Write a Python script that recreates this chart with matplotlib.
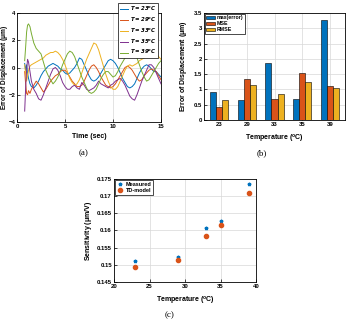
import numpy as np
import matplotlib

matplotlib.use("Agg")
import matplotlib.pyplot as plt

# --- (a) 시간에 따른 변위 오차 ---
time_sec = [0.8, 0.9, 1.0, 1.1, 1.2, 1.35, 1.5, 1.75, 2.0, 2.25, 2.5, 2.75, 3.0, 3.25, 3.5, 3.75,
            4.0, 4.25, 4.5, 4.75, 5.0, 5.25, 5.5, 5.75, 6.0, 6.25, 6.5, 6.75, 7.0, 7.25, 7.5, 7.75,
            8.0, 8.25, 8.5, 8.75, 9.0, 9.25, 9.5, 9.75, 10.0, 10.25, 10.5, 10.75, 11.0, 11.25, 11.5,
            11.75, 12.0, 12.25, 12.5, 12.75, 13.0, 13.25, 13.5, 13.75, 14.0, 14.25, 14.5, 14.75, 15.0]
err_23 = [0.3, -0.2, 0.2, -0.4, -0.8, -1.2, -1.4, -1.5, -1.3, -1.0, -0.6, -0.3, -0.1, 0.1, 0.2, 0.3,
          0.2, 0.1, -0.1, -0.2, -0.4, -0.5, -0.4, -0.2, 0.0, 0.3, 0.7, 0.6, 0.2, -0.2, -0.6, -0.9,
          -1.0, -0.9, -0.7, -0.4, -0.1, 0.2, 0.5, 0.6, 0.5, 0.3, 0.0, -0.4, -0.8, -1.1, -1.4,
          -1.5, -1.4, -1.2, -0.8, -0.4, -0.1, 0.1, 0.2, 0.1, -0.1, -0.3, -0.3, -0.5, -0.7]
err_29 = [-0.3, -1.2, -1.9, -2.0, -1.7, -1.9, -1.6, -1.3, -1.0, -1.2, -1.5, -1.8, -1.6, -1.3, -1.0, -0.8,
          -0.6, -0.5, -0.3, -0.2, -0.2, -0.4, -0.7, -1.0, -1.2, -1.4, -1.4, -1.3, -1.0, -0.6, -0.2, 0.1,
          0.2, 0.0, -0.3, -0.7, -1.0, -1.3, -1.4, -1.5, -1.4, -1.2, -0.9, -0.6, -0.3, 0.0, 0.1,
          0.0, -0.2, -0.5, -0.8, -1.0, -0.9, -0.6, -0.4, -0.2, -0.1, -0.2, -0.3, -0.6, -0.9]
err_33 = [0.2, -0.5, -1.0, -0.6, -0.2, 0.1, 0.2, 0.3, 0.4, 0.5, 0.6, 0.7, 0.9, 1.0, 1.1, 1.1,
          1.2, 1.1, 0.9, 0.6, 0.2, -0.3, -0.8, -1.1, -1.3, -1.2, -0.9, -0.4, 0.1, 0.6, 1.0, 1.4,
          1.8, 1.7, 1.3, 0.7, 0.1, -0.5, -1.0, -1.4, -1.6, -1.6, -1.4, -1.0, -0.6, -0.2, 0.1,
          0.2, 0.1, 0.2, 0.3, 0.5, 0.6, 0.7, 0.8, 0.9, 1.0, 1.1, 1.0, 0.8, 0.6]
err_35 = [-3.2, -1.5, -0.2, 0.6, 0.4, -0.3, -1.0, -1.6, -1.9, -2.3, -2.4, -2.0, -1.5, -1.0, -0.5, -0.1,
          0.0, -0.2, -0.6, -1.1, -1.4, -1.6, -1.6, -1.4, -1.3, -1.5, -1.6, -1.1, -1.3, -1.6, -1.7, -1.6,
          -1.5, -1.3, -1.0, -1.2, -1.3, -1.4, -1.5, -1.3, -1.2, -1.0, -0.9, -0.8, -1.0, -1.3, -1.7,
          -2.1, -2.3, -2.4, -2.0, -1.5, -1.0, -0.6, -0.2, 0.2, 0.2, 0.0, -0.4, -0.8, -1.2]
err_39 = [0.5, 1.5, 2.6, 3.1, 3.2, 3.0, 2.5, 1.8, 1.4, 1.2, 1.0, 0.4, -0.2, -0.6, -0.9, -1.2,
          -1.0, -0.7, -0.3, 0.2, 0.6, 1.0, 1.2, 1.1, 0.8, 0.3, -0.2, -0.7, -1.1, -1.5, -1.8, -1.9,
          -1.8, -1.6, -1.2, -0.8, -0.5, -0.3, -0.3, -0.5, -0.7, -0.6, -0.3, 0.1, 0.4, 0.7, 0.9,
          1.1, 1.1, 1.0, 0.7, 0.2, -0.3, -0.7, -1.0, -0.9, -0.6, -0.3, 0.0, 0.3, 0.5]
series_labels = [r"$\mathbfit{T=23^oC}$", r"$\mathbfit{T=29^oC}$", r"$\mathbfit{T=33^oC}$",
                 r"$\mathbfit{T=35^oC}$", r"$\mathbfit{T=39^oC}$"]

# --- (b) 온도별 오차 통계 ---
temps_b = ["23", "29", "33", "35", "39"]
max_error = [0.92, 0.67, 1.86, 0.70, 3.26]
mse = [0.42, 1.33, 0.70, 1.54, 1.11]
rmse = [0.65, 1.15, 0.84, 1.24, 1.06]

# --- (c) 감도 ---
temps_c = [23, 29, 33, 35, 39]
sens_measured = [0.1510, 0.1523, 0.1606, 0.1627, 0.1736]
sens_model = [0.1494, 0.1514, 0.1584, 0.1615, 0.1709]

C_BLUE, C_RED, C_YEL, C_PUR, C_GRN = "#0072BD", "#D95319", "#EDB120", "#7E2F8E", "#77AC30"

W, H = 347, 321
fig = plt.figure(figsize=(W / 100, H / 100), dpi=100)
plt.rcParams["font.family"] = ["Liberation Sans", "DejaVu Sans"]
plt.rcParams["mathtext.default"] = "regular"


def px_axes(left, top, right, bottom):
    return fig.add_axes([left / W, 1 - bottom / H, (right - left) / W, (bottom - top) / H])


def style(ax):
    ax.grid(True, color="#d8d8d8", linewidth=0.5)
    ax.set_axisbelow(True)
    ax.tick_params(direction="in", length=2, width=0.5, labelsize=4.3, pad=1.5)
    for t in ax.get_xticklabels() + ax.get_yticklabels():
        t.set_fontweight("bold")
    for s in ax.spines.values():
        s.set_linewidth(0.6)


def labels(ax, xl, yl, xpos, ypos, ysize=5):
    # 라벨 위치를 축 좌표로 고정 (원본 그림과 맞추기 위해)
    ax.set_xlabel(xl, fontsize=5, fontweight="bold")
    ax.set_ylabel(yl, fontsize=ysize, fontweight="bold")
    ax.xaxis.set_label_coords(0.5, xpos)
    ax.yaxis.set_label_coords(ypos, 0.5)


# (a)
ax_a = px_axes(17, 13, 161, 122)
for vals, col, lab in zip([err_23, err_29, err_33, err_35, err_39],
                          [C_BLUE, C_RED, C_YEL, C_PUR, C_GRN], series_labels):
    ax_a.plot(time_sec, vals, color=col, linewidth=0.7, label=lab)
ax_a.set_xlim(0, 15)
ax_a.set_ylim(-4, 4)
ax_a.set_xticks([0, 5, 10, 15])
ax_a.set_yticks([-4, -2, 0, 2, 4])
style(ax_a)
ax_a.tick_params(axis="y", pad=1.0)
labels(ax_a, "Time (sec)", r"Error of Displacement ($\mu$m)", -0.10, -0.052, ysize=4.7)
leg = fig.legend(*ax_a.get_legend_handles_labels(), loc="upper right",
                 bbox_to_anchor=(161 / W, 1.0), fontsize=3.9, handlelength=1.5,
                 labelspacing=0.5, borderpad=0.35, handletextpad=0.4, fancybox=False,
                 framealpha=1, edgecolor="black")
leg.get_frame().set_linewidth(0.5)

# (b)
ax_b = px_axes(204, 13, 345, 120)
x = np.arange(len(temps_b))
bw = 0.22
bar_kw = dict(width=bw, edgecolor="black", linewidth=0.4)
ax_b.bar(x - bw, max_error, color=C_BLUE, label="max(error)", **bar_kw)
ax_b.bar(x, mse, color=C_RED, label="MSE", **bar_kw)
ax_b.bar(x + bw, rmse, color=C_YEL, label="RMSE", **bar_kw)
ax_b.set_xticks(x)
ax_b.set_xticklabels(temps_b)
ax_b.set_xlim(-0.55, len(temps_b) - 0.45)
ax_b.set_ylim(0, 3.5)
ax_b.set_yticks([0, 0.5, 1, 1.5, 2, 2.5, 3, 3.5])
ax_b.set_yticklabels(["0", "0.5", "1", "1.5", "2", "2.5", "3", "3.5"])
style(ax_b)
labels(ax_b, r"Temperature ($^o$C)", r"Error of Displacement ($\mu$m)", -0.12, -0.105)
leg_b = ax_b.legend(loc="upper left", fontsize=3.8, handlelength=1.6, labelspacing=0.2,
                    borderpad=0.25, handletextpad=0.4, fancybox=False, framealpha=1,
                    edgecolor="black", borderaxespad=0.2)
leg_b.get_frame().set_linewidth(0.5)
for t in leg_b.get_texts():
    t.set_fontweight("bold")

# (c)
ax_c = px_axes(114, 179, 256, 282)
ax_c.plot(temps_c, sens_measured, linestyle="none", marker="*", markersize=2.5,
          color=C_BLUE, label="Measured")
ax_c.plot(temps_c, sens_model, linestyle="none", marker="o", markersize=3,
          color=C_RED, label="TD-model")
ax_c.set_xlim(20, 40)
ax_c.set_ylim(0.145, 0.175)
ax_c.set_xticks([20, 25, 30, 35, 40])
ax_c.set_yticks([0.145, 0.15, 0.155, 0.16, 0.165, 0.17, 0.175])
ax_c.set_yticklabels(["0.145", "0.15", "0.155", "0.16", "0.165", "0.17", "0.175"])
style(ax_c)
labels(ax_c, r"Temperature ($^o$C)", r"Sensitivity ($\mu$m/V)", -0.13, -0.14)
leg_c = ax_c.legend(loc="upper left", fontsize=4.0, handlelength=1.2, labelspacing=0.25,
                    borderpad=0.3, handletextpad=0.4, fancybox=False, framealpha=1,
                    edgecolor="black", borderaxespad=0.2)
leg_c.get_frame().set_linewidth(0.5)
for t in leg_c.get_texts():
    t.set_fontweight("bold")

# 캡션
cap_kw = dict(fontsize=6.5, family=["Liberation Serif", "DejaVu Serif"], ha="center", va="center")
fig.text(84 / W, 1 - 153 / H, "(a)", **cap_kw)
fig.text(262 / W, 1 - 153 / H, "(b)", **cap_kw)
fig.text(170 / W, 1 - 315 / H, "(c)", **cap_kw)

fig.savefig("out.png", dpi=100)
